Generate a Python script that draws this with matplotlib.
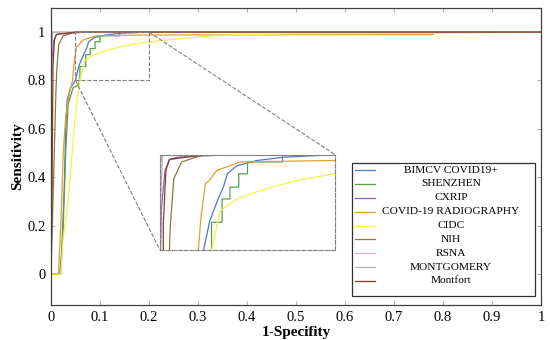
import matplotlib
matplotlib.use("Agg")
import matplotlib.pyplot as plt
from matplotlib.patches import Rectangle

plt.rcParams["font.family"] = ["Liberation Serif", "DejaVu Serif"]

# ROC curves (1-specificity, sensitivity)
names = ["BIMCV COVID19+", "SHENZHEN", "CXRIP", "COVID-19 RADIOGRAPHY", "CIDC",
         "NIH", "RSNA", "MONTGOMERY", "Montfort"]
colors = ["#4f78c4", "#5a9e4a", "#8a5cc8", "#e0a030", "#f2f24a",
          "#8c7840", "#f0a8cc", "#b4b4b4", "#8b3c22"]

bimcv_x = [0, 0.018, 0.022, 0.027, 0.030, 0.033, 0.040, 0.050, 0.057, 0.065, 0.073, 0.077, 0.088, 0.111, 0.142, 0.2, 1]
bimcv_y = [0, 0, 0.10, 0.35, 0.60, 0.72, 0.77, 0.80, 0.861, 0.90, 0.935, 0.96, 0.977, 0.988, 0.995, 1, 1]

shen_x = [0, 0.020, 0.025, 0.030, 0.035, 0.045, 0.055, 0.059, 0.059, 0.071, 0.071, 0.080, 0.080, 0.090, 0.090, 0.100, 0.100, 0.140, 0.140, 1]
shen_y = [0, 0, 0.20, 0.50, 0.70, 0.77, 0.78, 0.80, 0.858, 0.858, 0.907, 0.907, 0.932, 0.932, 0.960, 0.960, 0.985, 0.985, 1, 1]

cxrip_x = [0, 0.0005, 0.0008, 0.002, 0.006, 0.011, 0.020, 0.080, 1]
cxrip_y = [0, 0.50, 0.80, 0.89, 0.967, 0.99, 0.995, 1, 1]

radio_x = [0, 0.015, 0.020, 0.025, 0.030, 0.038, 0.044, 0.047, 0.052, 0.056, 0.065, 0.080, 0.092, 0.2, 0.78, 0.78, 1]
radio_y = [0, 0, 0.20, 0.50, 0.65, 0.75, 0.80, 0.87, 0.939, 0.945, 0.967, 0.977, 0.985, 0.988, 0.99, 1, 1]

cidc_x = [0, 0.020, 0.025, 0.035, 0.045, 0.052, 0.059, 0.069, 0.088, 0.115, 0.142, 0.165, 0.2, 0.25, 0.30, 0.37, 0.5, 0.78, 1]
cidc_y = [0, 0, 0.15, 0.30, 0.55, 0.70, 0.80, 0.882, 0.907, 0.925, 0.939, 0.949, 0.96, 0.97, 0.98, 0.99, 0.993, 0.995, 1]

nih_x = [0, 0.004, 0.008, 0.010, 0.012, 0.016, 0.025, 0.050, 1]
nih_y = [0, 0.30, 0.60, 0.75, 0.85, 0.95, 0.985, 1, 1]

rsna_x = [0, 0.0005, 0.002, 1]
rsna_y = [0, 0.95, 1, 1]

mont_x = [0, 0.001, 0.003, 1]
mont_y = [0, 0.90, 1, 1]

montfort_x = [0, 0.002, 0.003, 0.004, 0.004, 0.007, 0.011, 0.050, 1]
montfort_y = [0, 0.30, 0.60, 0.80, 0.854, 0.967, 0.99, 1, 1]

xs = [bimcv_x, shen_x, cxrip_x, radio_x, cidc_x, nih_x, rsna_x, mont_x, montfort_x]
ys = [bimcv_y, shen_y, cxrip_y, radio_y, cidc_y, nih_y, rsna_y, mont_y, montfort_y]

xticks = [0, 0.1, 0.2, 0.3, 0.4, 0.5, 0.6, 0.7, 0.8, 0.9, 1]
xticklabels = ["0", "0.1", "0.2", "0.3", "0.4", "0.5", "0.6", "0.7", "0.8", "0.9", "1"]
yticks = [0, 0.2, 0.4, 0.6, 0.8, 1]
yticklabels = ["0", "0.2", "0.4", "0.6", "0.8", "1"]

fig = plt.figure(figsize=(5.5, 3.4), dpi=100)
ax = fig.add_axes([0.0927, 0.103, 0.891, 0.873])

for x, y, c in zip(xs, ys, colors):
    ax.plot(x, y, color=c, lw=0.9)

ax.set_xlim(0, 1)
ax.set_ylim(-0.128, 1.099)
ax.set_xticks(xticks)
ax.set_xticklabels(xticklabels)
ax.set_yticks(yticks)
ax.set_yticklabels(yticklabels)
ax.tick_params(direction="in", top=True, right=True, labelsize=10.5, length=3,
               color="#a0a0a0", width=0.6, pad=4)
for s in ax.spines.values():
    s.set_color("#404040")
    s.set_linewidth(0.9)
ax.set_xlabel("1-Specifity", fontsize=11, fontweight="bold", labelpad=2)
ax.set_ylabel("Sensitivity", fontsize=11, fontweight="bold", labelpad=2)

# zoom rectangle and inset
ax.add_patch(Rectangle((0.05, 0.8), 0.15, 0.2, fill=False, ls="--", lw=0.8,
                       edgecolor="#808080", zorder=3))
ins_b = [0.222, 0.1, 0.358, 0.393]
ins = ax.inset_axes(ins_b, transform=ax.transData)
for x, y, c in zip(xs, ys, colors):
    ins.plot(x, y, color=c, lw=0.9)
ins.set_xlim(0, 0.2)
ins.set_ylim(0.8, 1.0)
ins.set_xticks([])
ins.set_yticks([])
for s in ins.spines.values():
    s.set_linestyle("--")
    s.set_color("#808080")
    s.set_linewidth(0.8)
ax.plot([0.05, ins_b[0]], [0.8, ins_b[1]], ls="--", color="#808080", lw=0.8)
ax.plot([0.2, ins_b[0] + ins_b[2]], [1.0, ins_b[1] + ins_b[3]], ls="--", color="#808080", lw=0.8)

# legend box drawn by hand so the text can be centred
ax.add_patch(Rectangle((0.614, 0.03), 0.374, 0.448, transform=ax.transAxes,
                       facecolor="white", edgecolor="#303030", lw=0.9, zorder=5))
for i, (n, c) in enumerate(zip(names, colors)):
    yy = 0.4545 - i * 0.0467
    ax.plot([0.620, 0.662], [yy, yy], transform=ax.transAxes, color=c, lw=0.9, zorder=6)
    ax.text(0.816, yy, n, transform=ax.transAxes, ha="center", va="center",
            fontsize=8.2, zorder=6)

fig.savefig("out.png", dpi=100)
